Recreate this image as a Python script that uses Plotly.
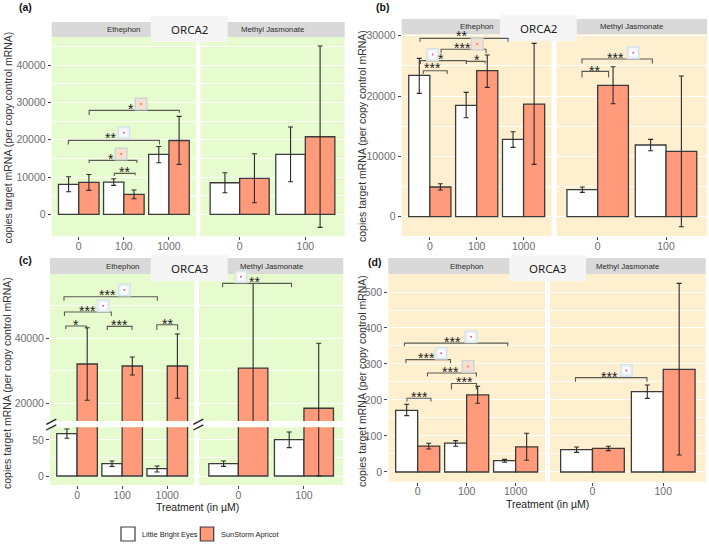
import plotly.graph_objects as go

W, H = 709, 544
GREEN, CREAM = "#E6FCCF", "#FEF0CF"
WHITE_BAR, ORANGE_BAR = "#FFFFFF", "#FF9A7A"
GENOTYPES = ["Little Bright Eyes", "SunStorm Apricot"]
ETH_DOSES = ["0", "100", "1000"]
MEJ_DOSES = ["0", "100"]

# value / upper whisker / lower whisker : (white series, orange series)
a_eth = dict(w=[8040, 8660, 16070], wu=[10090, 9550, 18200], wl=[6070, 7770, 13840],
             o=[8570, 5360, 19800], ou=[10700, 6520, 26250], ol=[6430, 4200, 13400])
a_mej = dict(w=[8480, 16070], wu=[11160, 23400], wl=[5800, 8750],
             o=[9640, 20800], ou=[16250, 45100], ol=[3130, -3480])
b_eth = dict(w=[23430, 18450, 12820], wu=[26240, 20610, 14090], wl=[20440, 16410, 11490],
             o=[4920, 24200, 18670], ou=[5470, 26800, 28730], ol=[4420, 21440, 8670])
b_mej = dict(w=[4480, 11880], wu=[4920, 12820], wl=[4030, 10940],
             o=[21770, 10830], ou=[24860, 23320], ol=[18730, -1660])
c_eth = dict(w=[58.8, 17.1, 10.2], wu=[65.3, 20.8, 13.9], wl=[52.3, 13.4, 5.6],
             o=[32040, 31430, 31430], ou=[43160, 34190, 41220], ol=[20930, 28680, 21540])
c_mej = dict(w=[17.1, 50.5], wu=[20.8, 61.1], wl=[13.4, 39.4],
             o=[30800, 18480], ou=[56700, 38370], ol=[5000, 0])
d_eth = dict(w=[171, 80, 31.5], wu=[188, 87, 35], wl=[156.5, 71.3, 27],
             o=[72, 214, 70], ou=[80, 238, 107.4], ol=[64, 191, 32.4])
d_mej = dict(w=[62, 223], wu=[69.5, 241.7], wl=[54.6, 204.6],
             o=[65.7, 285], ou=[71.3, 524], ol=[59.3, 47])

# bracket: x0, x1, y, left drop, right drop, label, label x, label y, icon (x, y, kind) or None
a_eth_br = [(0.23, 2.23, 27860, 1250, 600, "*", 1.16, 28580, (1.38, 29560, "p")),
            (-0.23, 1.79, 19820, 1070, 1070, "**", 0.70, 20990, (1.00, 21880, "w")),
            (0.23, 1.29, 14470, 700, 700, "*", 0.72, 15180, (0.94, 16160, "p")),
            (0.79, 1.25, 10980, 700, 500, "**", 1.02, 11790, None)]
a_mej_br = []
b_eth_br = [(-0.21, 1.67, 29560, 550, 550, "**", 0.68, 30130, (0.39, 30570, "w")),
            (0.24, 1.20, 27740, 660, 660, "***", 0.70, 28290, (1.01, 28570, "p")),
            (-0.20, 0.78, 25860, 550, 550, "*", 0.24, 26410, (0.06, 26900, "w")),
            (0.78, 1.18, 25750, 330, 330, "*", 1.00, 26300, None),
            (-0.14, 0.37, 24200, 550, 550, "***", 0.06, 24910, None)]
b_mej_br = [(-0.23, 0.16, 24090, 1000, 1000, "**", -0.04, 24420, None),
            (-0.23, 0.80, 26130, 720, 720, "***", 0.26, 26520, (0.52, 27180, "w"))]
c_eth_br = [(-0.29, 1.78, 52650, 1220, 1220, "***", 0.68, 53670, (1.05, 54690, "w")),
            (-0.28, 0.76, 47960, 1220, 1220, "***", 0.23, 48770, (0.58, 49890, "w")),
            (-0.25, 0.21, 43670, 920, 920, "*", -0.03, 44490, None),
            (0.67, 1.22, 43570, 1120, 1120, "***", 0.95, 44490, None),
            (1.77, 2.23, 44080, 1630, 1630, "**", 2.00, 44800, None)]
c_mej_br = [(-0.24, 0.81, 56730, 1220, 1220, "**", 0.24, 57550, (0.04, 58770, "w"))]
d_eth_br = [(-0.27, 1.84, 358, 9, 9, "***", 0.71, 366, (1.09, 376, "w")),
            (-0.24, 0.67, 312, 10, 10, "***", 0.18, 321, (0.48, 330, "w")),
            (0.20, 1.20, 275, 10, 10, "***", 0.67, 281, (1.03, 293, "p")),
            (0.69, 1.20, 246, 17, 17, "***", 0.95, 253, None),
            (-0.22, 0.27, 205, 9, 9, "***", 0.03, 212, None)]
d_mej_br = [(-0.24, 0.77, 262, 11, 11, "***", 0.24, 268, (0.48, 282, "w"))]


def px(x): return x / W
def py(y): return 1 - y / H


fig = go.Figure()
shapes, annotations, chrome_rects, pending = [], [], [], []
layout_axes = {}
ax_n = [1]
FONT = "Liberation Sans, Arial, sans-serif"
TICKC = "#6E6E6E"


def note(x, y, text, xref="paper", yref="paper", xanchor="center", yanchor="middle", **kw):
    annotations.append(dict(x=x, y=y, xref=xref, yref=yref, text=text, showarrow=False,
                            xanchor=xanchor, yanchor=yanchor, **kw))


def new_axis_pair(xdom, ydom, x_range, y_range, xticks, y_opts, show_x=True, show_y=True, bg=GREEN):
    ax_n[0] += 1
    n = ax_n[0]
    xn, yn = f"xaxis{n}", f"yaxis{n}"
    layout_axes[xn] = dict(domain=[px(xdom[0]), px(xdom[1])], range=x_range, anchor=f"y{n}",
                           tickvals=list(range(len(xticks))), ticktext=xticks, showgrid=False,
                           zeroline=False, showticklabels=show_x, ticks="outside" if show_x else "",
                           ticklen=3, tickwidth=1, tickcolor="#444", ticklabelstandoff=-3,
                           tickfont=dict(family=FONT, size=10.5, color=TICKC), fixedrange=True)
    layout_axes[yn] = dict(domain=[py(ydom[1]), py(ydom[0])], range=y_range, anchor=f"x{n}",
                           showgrid=True, gridcolor="white", gridwidth=1, zeroline=False,
                           showticklabels=show_y, ticks="outside" if show_y else "",
                           ticklen=3, tickwidth=1, tickcolor="#444",
                           tickfont=dict(family=FONT, size=10.5, color=TICKC), fixedrange=True, **y_opts)
    shapes.append(dict(type="rect", xref=f"x{n} domain", yref=f"y{n} domain", x0=0, x1=1, y0=0, y1=1,
                       fillcolor=bg, line_width=0, layer="below"))
    return f"x{n}", f"y{n}"


def overlay_axes(xdom, ydom, x_range, y_range):
    """Invisible copy of a panel's axes, stacked above the strips so brackets can sit on them."""
    ax_n[0] += 1
    n = ax_n[0]
    layout_axes[f"xaxis{n}"] = dict(domain=[px(xdom[0]), px(xdom[1])], range=x_range, anchor=f"y{n}",
                                    visible=False, fixedrange=True)
    layout_axes[f"yaxis{n}"] = dict(domain=[py(ydom[1]), py(ydom[0])], range=y_range, anchor=f"x{n}",
                                    visible=False, fixedrange=True)
    return f"x{n}", f"y{n}"


def add_bars(xa, ya, d, labels):
    xs = list(range(len(labels)))
    for key, col, name in (("w", WHITE_BAR, GENOTYPES[0]), ("o", ORANGE_BAR, GENOTYPES[1])):
        vals = d[key]
        fig.add_trace(go.Bar(
            x=xs, y=vals, name=name, xaxis=xa, yaxis=ya, showlegend=False, hoverinfo="skip",
            marker=dict(color=col, line=dict(color="#3A3A3A", width=1.3)),
            error_y=dict(type="data", symmetric=False,
                         array=[u - v for u, v in zip(d[key + "u"], vals)],
                         arrayminus=[v - l for v, l in zip(vals, d[key + "l"])],
                         color="#2A2A2A", thickness=1.1, width=2.5)))


def add_brackets(xa, ya, brs):
    for (x0, x1, y, dl, dr, lab, lx, ly, icon) in brs:
        fig.add_trace(go.Scatter(x=[x0, x0, x1, x1], y=[y - dl, y, y, y - dr], xaxis=xa, yaxis=ya,
                                 mode="lines", line=dict(color="#5A5A55", width=1.1),
                                 showlegend=False, hoverinfo="skip", cliponaxis=False))
        note(lx, ly, lab, xref=xa, yref=ya, yshift=-1.5, font=dict(family=FONT, size=14, color="#1A1A1A"))
        if icon:
            ix, iy, kind = icon
            sq, inner = ("#D6E4EA", "#FFFFFF") if kind == "w" else ("#CFD3D2", "#F9DCCB")
            for sym, size, col, lc in (("square", 11.5, "#EEF4F6" if kind == "w" else "#F6E2D4", sq),
                                       ("circle", 7.5, inner, inner),
                                       ("circle", 2, "#F2509A" if kind == "w" else "#F0705A", None)):
                fig.add_trace(go.Scatter(
                    x=[ix], y=[iy], xaxis=xa, yaxis=ya, mode="markers", showlegend=False,
                    hoverinfo="skip", cliponaxis=False,
                    marker=dict(symbol=sym, size=size, color=col,
                                line=dict(color=lc or col, width=1.5 if sym == "square" else 0))))


def panel(letter, lpos, box, gene, strip_y, plot_bottom, eth_x, mej_x, y_range, y_opts, eth, mej, eth_br, mej_br, bg, ytitle):
    top = strip_y[1]
    xa, ya = new_axis_pair(eth_x, (top, plot_bottom), [-0.6, 2.6], y_range, ETH_DOSES, y_opts, bg=bg)
    add_bars(xa, ya, eth, ETH_DOSES)
    pending.append((eth_x, (top, plot_bottom), [-0.6, 2.6], y_range, eth_br))
    xb, yb = new_axis_pair(mej_x, (top, plot_bottom), [-0.6, 1.6], y_range, MEJ_DOSES, y_opts, show_y=False, bg=bg)
    add_bars(xb, yb, mej, MEJ_DOSES)
    pending.append((mej_x, (top, plot_bottom), [-0.6, 1.6], y_range, mej_br))
    decorate(letter, lpos, box, gene, strip_y, eth_x, mej_x, ytitle)


def decorate(letter, lpos, box, gene, strip_y, eth_x, mej_x, ytitle):
    for xr, txt in ((eth_x, "Ethephon"), (mej_x, "Methyl Jasmonate")):
        chrome_rects.append((xr[0], xr[1], strip_y[0], strip_y[1], "#D9D9D9"))
        note(px(sum(xr) / 2), py(sum(strip_y) / 2), txt, font=dict(family=FONT, size=7.8, color="#2A2A2A"))
    chrome_rects.append((box[0], box[1], box[2], box[3], "#F5F5F5"))
    note(px(sum(box[:2]) / 2), py(sum(box[2:]) / 2), gene,
         font=dict(family="Noto Sans, sans-serif", size=11.5, color="#222"))
    note(px(lpos[0]), py(lpos[1]), f"<b>({letter})</b>", xanchor="left",
         font=dict(family=FONT, size=10.5, color="#111"))
    note(px(ytitle[0]), py(ytitle[1]), "copies target mRNA (per copy control mRNA)", textangle=-90,
         font=dict(family=FONT, size=10.5, color="#333"))


def yo(tickvals, minor):
    return dict(tickvals=tickvals, ticktext=[str(t) for t in tickvals],
                minor=dict(tickvals=minor, showgrid=True, gridcolor="white", gridwidth=0.5, ticks=""))


# (a)
panel("a", (16.5, 7), (150.7, 227.7, 16, 42), "ORCA2", (22, 37), 236.3, (51.7, 196), (200.3, 344.7),
      [-5870, 47530], yo([0, 10000, 20000, 30000, 40000], [5000, 15000, 25000, 35000, 45000]),
      a_eth, a_mej, a_eth_br, a_mej_br, GREEN, (8, 137.5))
# (b)
panel("b", (374, 7), (500, 576.7, 15, 41), "ORCA2", (19, 34), 236, (401.7, 551.7), (556.7, 707),
      [-3200, 30280], yo([0, 10000, 20000, 30000], [5000, 15000, 25000]),
      b_eth, b_mej, b_eth_br, b_mej_br, CREAM, (362, 136))
# (d)
panel("d", (366, 262), (509.3, 586, 255, 281), "ORCA3", (258, 274), 481.7, (388.3, 545), (550, 705.7),
      [-27, 550], yo([0, 100, 200, 300, 400, 500], [50, 150, 250, 350, 450]),
      d_eth, d_mej, d_eth_br, d_mej_br, CREAM, (362, 381))

# (c) broken y axis: upper and lower strata of one scale
C_TOP, C_BREAK0, C_BREAK1, C_BOTTOM = 274, 421, 427.3, 485
up_range = [14580, 59600]
lo_range = [-12.5, 67.6]
up_opts = yo([20000, 40000], [30000, 50000])
lo_opts = yo([0, 50], [25])
for xr, d, labs, brs, show, xrange_ in (((50, 194.3), c_eth, ETH_DOSES, c_eth_br, True, [-0.6, 2.6]),
                                        ((199, 343.3), c_mej, MEJ_DOSES, c_mej_br, False, [-0.6, 1.6])):
    xl, yl = new_axis_pair(xr, (C_BREAK1, C_BOTTOM), xrange_, lo_range, labs, lo_opts, show_y=show, bg=GREEN)
    add_bars(xl, yl, d, labs)
    xu, yu = new_axis_pair(xr, (C_TOP, C_BREAK0), xrange_, up_range, labs, up_opts, show_x=False, show_y=show, bg=GREEN)
    add_bars(xu, yu, d, labs)
    pending.append((xr, (C_TOP, C_BREAK0), xrange_, up_range, brs))
decorate("c", (16.5, 260), (150.7, 227.7, 255, 281), "ORCA3", (258, 274), (50, 194.3), (199, 343.3), (7, 383))

# strip and title boxes, on a page-wide subplot stacked above the panels
cx, cy = overlay_axes((0, W), (0, H), [0, W], [H, 0])
fig.add_trace(go.Scatter(x=[None], y=[None], xaxis=cx, yaxis=cy, showlegend=False, hoverinfo="skip"))
for x0, x1, y0, y1, col in chrome_rects:
    shapes.append(dict(type="rect", xref=cx, yref=cy, x0=x0, x1=x1, y0=y0, y1=y1,
                       fillcolor=col, line_width=0, layer="below"))

# significance brackets above the strips
for xdom, ydom, xrng, yrng, brs in pending:
    if brs:
        xo, yo_ = overlay_axes(xdom, ydom, xrng, yrng)
        add_brackets(xo, yo_, brs)

# axis-break marks
for x0 in (46.3, 193.3):
    for y0 in (424.3, 430):
        shapes.append(dict(type="line", xref="paper", yref="paper", x0=px(x0), x1=px(x0 + 10),
                           y0=py(y0), y1=py(y0 - 5.2), line=dict(color="#222", width=1.3), layer="above"))

# x titles
for tx, ty in ((197, 506.5), (547.5, 503.5)):
    note(px(tx), py(ty), "Treatment (in µM)", font=dict(family=FONT, size=10.5, color="#222"))

# legend key
for (x0, x1, col, tx, name) in ((121, 135, WHITE_BAR, 140, GENOTYPES[0]), (200.3, 213.7, ORANGE_BAR, 218.7, GENOTYPES[1])):
    shapes.append(dict(type="rect", xref="paper", yref="paper", x0=px(x0), x1=px(x1), y0=py(541), y1=py(527),
                       fillcolor=col, line=dict(color="#3A3A3A", width=1.2), layer="above"))
    note(px(tx), py(534), name, xanchor="left", font=dict(family=FONT, size=7.4, color="#222"))

fig.update_layout(width=W, height=H, margin=dict(l=0, r=0, t=0, b=0, autoexpand=False), paper_bgcolor="white",
                  plot_bgcolor="rgba(0,0,0,0)", barmode="group", bargap=0.1, bargroupgap=0,
                  showlegend=False, shapes=shapes, annotations=annotations, **layout_axes)
fig.write_html("out.html", config=dict(displayModeBar=False),
               post_script="document.body.style.margin='0';document.body.style.overflow='hidden';")
